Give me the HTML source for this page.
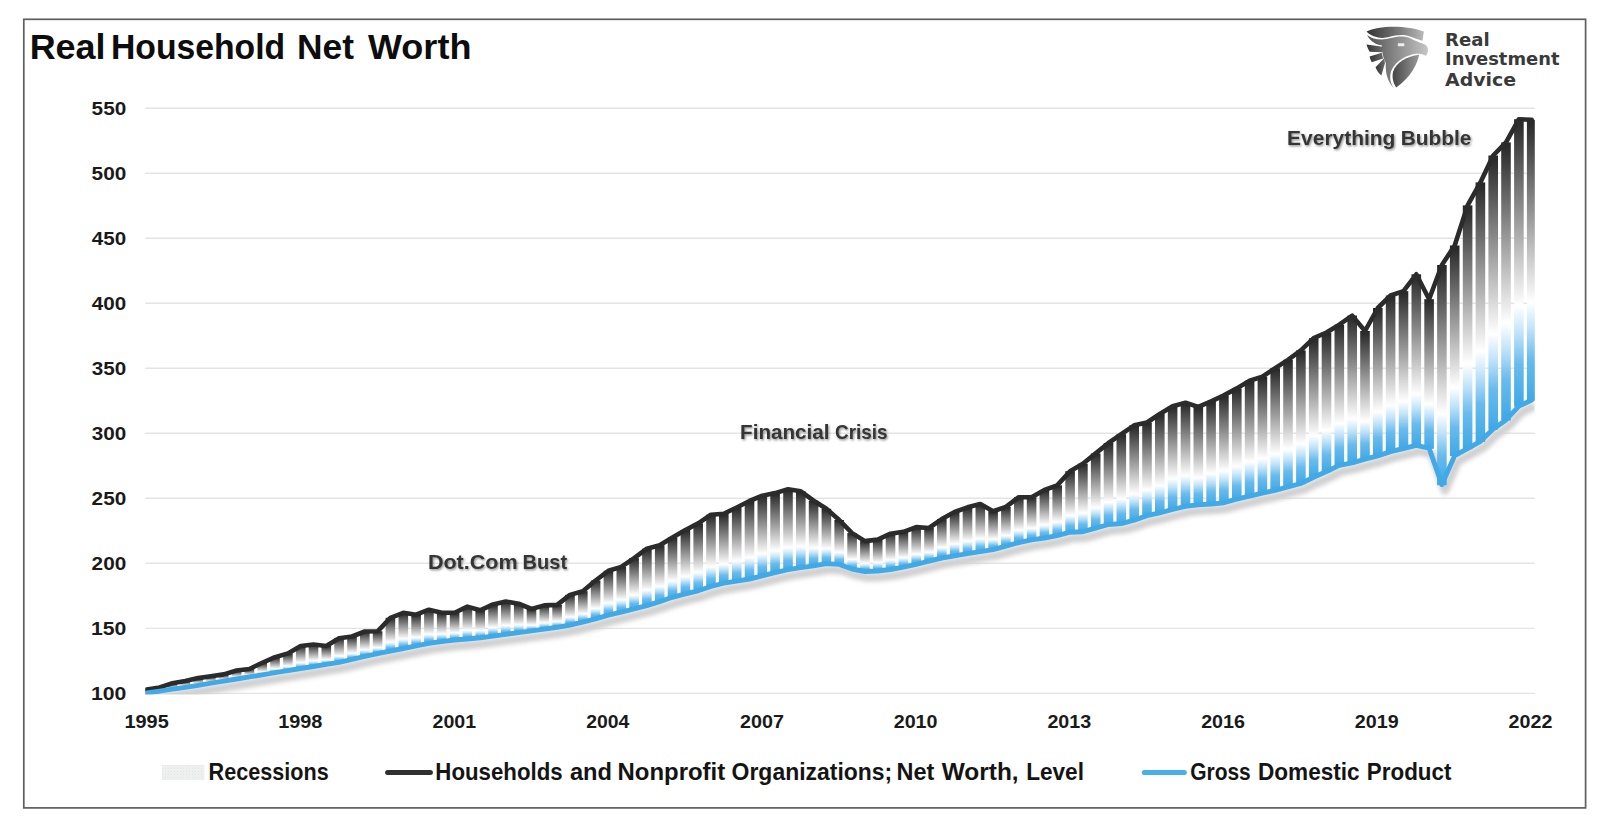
<!DOCTYPE html>
<html lang="en"><head><meta charset="utf-8"><title>Real Household Net Worth</title>
<style>html,body{margin:0;padding:0;background:#fff}svg{display:block}text{font-family:"Liberation Sans",Arial,sans-serif;font-weight:bold}</style></head>
<body>
<svg width="1606" height="828" viewBox="0 0 1606 828">
<defs>
<linearGradient id="bar0" x1="0" y1="0" x2="0" y2="1"><stop offset="0" stop-color="#262626"/><stop offset="0.720" stop-color="#ffffff"/><stop offset="0.796" stop-color="#bfe3f9"/><stop offset="0.882" stop-color="#68bbed"/><stop offset="1" stop-color="#3fa8e6"/></linearGradient>
<linearGradient id="bar1" x1="0" y1="0" x2="0" y2="1"><stop offset="0" stop-color="#262626"/><stop offset="0.700" stop-color="#ffffff"/><stop offset="0.781" stop-color="#bfe3f9"/><stop offset="0.874" stop-color="#68bbed"/><stop offset="1" stop-color="#3fa8e6"/></linearGradient>
<linearGradient id="bar2" x1="0" y1="0" x2="0" y2="1"><stop offset="0" stop-color="#262626"/><stop offset="0.675" stop-color="#ffffff"/><stop offset="0.763" stop-color="#bfe3f9"/><stop offset="0.864" stop-color="#68bbed"/><stop offset="1" stop-color="#3fa8e6"/></linearGradient>
<linearGradient id="bar3" x1="0" y1="0" x2="0" y2="1"><stop offset="0" stop-color="#262626"/><stop offset="0.650" stop-color="#ffffff"/><stop offset="0.745" stop-color="#bfe3f9"/><stop offset="0.853" stop-color="#68bbed"/><stop offset="1" stop-color="#3fa8e6"/></linearGradient>
<linearGradient id="lg1" x1="0" y1="0" x2="1" y2="0"><stop offset="0" stop-color="#333"/><stop offset="0.5" stop-color="#707070"/><stop offset="1" stop-color="#b8b8b8"/></linearGradient>
<linearGradient id="lg2" x1="0" y1="0" x2="1" y2="0"><stop offset="0" stop-color="#505050"/><stop offset="0.4" stop-color="#808080"/><stop offset="1" stop-color="#c6c6c6"/></linearGradient>
<linearGradient id="lg3" x1="0" y1="0" x2="1" y2="0"><stop offset="0" stop-color="#454545"/><stop offset="1" stop-color="#9a9a9a"/></linearGradient>
<linearGradient id="lg4" x1="0" y1="0" x2="1" y2="0"><stop offset="0" stop-color="#333"/><stop offset="1" stop-color="#6c6c6c"/></linearGradient>
<filter id="sh" x="-5%" y="-20%" width="110%" height="150%"><feGaussianBlur stdDeviation="1.9"/></filter>
<filter id="ts" x="-10%" y="-30%" width="120%" height="170%"><feDropShadow dx="1.1" dy="1.3" stdDeviation="1.0" flood-color="#000" flood-opacity="0.45"/></filter>
<clipPath id="plot"><rect x="145.3" y="100" width="1389.5" height="594.6"/></clipPath>
<pattern id="rec" width="3" height="3" patternUnits="userSpaceOnUse"><rect width="3" height="3" fill="#eef0f0"/><rect width="1" height="1" fill="#e2e5e5"/></pattern>
</defs>
<rect x="0" y="0" width="1606" height="828" fill="#fff"/>
<rect x="23.8" y="19.3" width="1561.8" height="788.6" fill="#fff" stroke="#5e5e5e" stroke-width="1.7"/>
<g stroke="#e4e4e4" stroke-width="1.4">
<line x1="145.3" y1="108.2" x2="1534.8" y2="108.2"/>
<line x1="145.3" y1="173.2" x2="1534.8" y2="173.2"/>
<line x1="145.3" y1="238.2" x2="1534.8" y2="238.2"/>
<line x1="145.3" y1="303.3" x2="1534.8" y2="303.3"/>
<line x1="145.3" y1="368.3" x2="1534.8" y2="368.3"/>
<line x1="145.3" y1="433.3" x2="1534.8" y2="433.3"/>
<line x1="145.3" y1="498.3" x2="1534.8" y2="498.3"/>
<line x1="145.3" y1="563.3" x2="1534.8" y2="563.3"/>
<line x1="145.3" y1="628.4" x2="1534.8" y2="628.4"/>
<line x1="145.3" y1="693.4" x2="1534.8" y2="693.4"/>
</g>
<g fill="#1a1a1a">
<text y="114.6" font-size="17.8" ><tspan x="91.58" textLength="34.67" lengthAdjust="spacingAndGlyphs">550</tspan></text>
<text y="179.6" font-size="17.8" ><tspan x="91.58" textLength="34.67" lengthAdjust="spacingAndGlyphs">500</tspan></text>
<text y="244.6" font-size="17.8" ><tspan x="91.89" textLength="34.35" lengthAdjust="spacingAndGlyphs">450</tspan></text>
<text y="309.7" font-size="17.8" ><tspan x="91.89" textLength="34.35" lengthAdjust="spacingAndGlyphs">400</tspan></text>
<text y="374.7" font-size="17.8" ><tspan x="91.79" textLength="34.46" lengthAdjust="spacingAndGlyphs">350</tspan></text>
<text y="439.7" font-size="17.8" ><tspan x="91.79" textLength="34.46" lengthAdjust="spacingAndGlyphs">300</tspan></text>
<text y="504.7" font-size="17.8" ><tspan x="91.58" textLength="34.67" lengthAdjust="spacingAndGlyphs">250</tspan></text>
<text y="569.7" font-size="17.8" ><tspan x="91.58" textLength="34.67" lengthAdjust="spacingAndGlyphs">200</tspan></text>
<text y="634.8" font-size="17.8" ><tspan x="90.93" textLength="35.34" lengthAdjust="spacingAndGlyphs">150</tspan></text>
<text y="699.8" font-size="17.8" ><tspan x="90.93" textLength="35.34" lengthAdjust="spacingAndGlyphs">100</tspan></text>
</g>
<g fill="#1a1a1a">
<text y="728.3" font-size="17.6" ><tspan x="124.51" textLength="44.21" lengthAdjust="spacingAndGlyphs">1995</tspan></text>
<text y="728.3" font-size="17.6" ><tspan x="278.23" textLength="44.21" lengthAdjust="spacingAndGlyphs">1998</tspan></text>
<text y="728.3" font-size="17.6" ><tspan x="432.55" textLength="43.60" lengthAdjust="spacingAndGlyphs">2001</tspan></text>
<text y="728.3" font-size="17.6" ><tspan x="586.28" textLength="43.10" lengthAdjust="spacingAndGlyphs">2004</tspan></text>
<text y="728.3" font-size="17.6" ><tspan x="739.99" textLength="43.90" lengthAdjust="spacingAndGlyphs">2007</tspan></text>
<text y="728.3" font-size="17.6" ><tspan x="893.71" textLength="43.80" lengthAdjust="spacingAndGlyphs">2010</tspan></text>
<text y="728.3" font-size="17.6" ><tspan x="1047.43" textLength="43.80" lengthAdjust="spacingAndGlyphs">2013</tspan></text>
<text y="728.3" font-size="17.6" ><tspan x="1201.15" textLength="43.80" lengthAdjust="spacingAndGlyphs">2016</tspan></text>
<text y="728.3" font-size="17.6" ><tspan x="1354.87" textLength="43.80" lengthAdjust="spacingAndGlyphs">2019</tspan></text>
<text y="728.3" font-size="17.6" ><tspan x="1508.59" textLength="43.80" lengthAdjust="spacingAndGlyphs">2022</tspan></text>
</g>
<g clip-path="url(#plot)">
<polyline points="149.8,699.0 162.6,697.1 175.4,695.2 188.3,693.3 201.1,691.3 213.9,689.2 226.7,687.1 239.6,685.0 252.4,682.9 265.2,680.8 278.0,678.7 290.9,676.6 303.7,674.5 316.5,672.5 329.3,670.4 342.1,668.3 355.0,665.3 367.8,662.4 380.6,659.6 393.4,657.0 406.3,654.5 419.1,651.9 431.9,649.3 444.7,647.6 457.6,646.0 470.4,645.0 483.2,643.8 496.0,642.1 508.8,640.4 521.7,638.6 534.5,636.9 547.3,635.1 560.1,633.3 573.0,631.0 585.8,628.1 598.6,624.8 611.4,621.2 624.3,618.1 637.1,614.8 649.9,611.6 662.7,607.6 675.5,603.3 688.4,599.9 701.2,596.8 714.0,592.5 726.8,589.2 739.7,587.1 752.5,585.0 765.3,581.8 778.1,578.7 791.0,575.6 803.8,573.7 816.6,571.8 829.4,569.6 842.2,570.4 855.1,575.0 867.9,577.5 880.7,577.0 893.5,575.5 906.4,573.2 919.2,570.3 932.0,567.2 944.8,564.0 957.6,561.9 970.5,559.7 983.3,557.6 996.1,555.6 1008.9,552.1 1021.8,548.6 1034.6,545.9 1047.4,544.0 1060.2,541.6 1073.1,538.2 1085.9,537.7 1098.7,534.2 1111.5,530.5 1124.3,529.6 1137.2,526.2 1150.0,521.6 1162.8,518.8 1175.6,515.5 1188.5,512.4 1201.3,510.8 1214.1,510.1 1226.9,508.7 1239.8,505.2 1252.6,502.1 1265.4,499.2 1278.2,496.4 1291.0,492.9 1303.9,489.5 1316.7,483.3 1329.5,477.6 1342.3,471.3 1355.2,468.8 1368.0,465.2 1380.8,461.8 1393.6,457.6 1406.5,454.5 1419.3,451.4 1432.1,454.2 1444.9,490.6 1457.7,461.5 1470.6,454.6 1483.4,447.3 1496.2,435.1 1509.0,425.9 1521.9,412.1 1534.7,406.0" fill="none" stroke="#d0d0d0" stroke-width="8.5" stroke-linejoin="round" filter="url(#sh)"/>
<g>
<rect x="142.0" y="689.5" width="9.6" height="4.1" fill="url(#bar0)"/>
<rect x="154.8" y="687.4" width="9.6" height="4.3" fill="url(#bar0)"/>
<rect x="167.6" y="683.3" width="9.6" height="6.5" fill="url(#bar0)"/>
<rect x="180.5" y="680.9" width="9.6" height="7.0" fill="url(#bar0)"/>
<rect x="193.3" y="678.1" width="9.6" height="7.8" fill="url(#bar0)"/>
<rect x="206.1" y="676.3" width="9.6" height="7.5" fill="url(#bar0)"/>
<rect x="218.9" y="674.4" width="9.6" height="7.3" fill="url(#bar0)"/>
<rect x="231.8" y="670.5" width="9.6" height="9.1" fill="url(#bar0)"/>
<rect x="244.6" y="669.0" width="9.6" height="8.5" fill="url(#bar0)"/>
<rect x="257.4" y="662.8" width="9.6" height="12.6" fill="url(#bar0)"/>
<rect x="270.2" y="657.2" width="9.6" height="16.1" fill="url(#bar0)"/>
<rect x="283.1" y="653.4" width="9.6" height="17.8" fill="url(#bar0)"/>
<rect x="295.9" y="646.0" width="9.6" height="23.1" fill="url(#bar0)"/>
<rect x="308.7" y="644.5" width="9.6" height="22.6" fill="url(#bar0)"/>
<rect x="321.5" y="646.0" width="9.6" height="19.0" fill="url(#bar0)"/>
<rect x="334.3" y="638.2" width="9.6" height="24.7" fill="url(#bar0)"/>
<rect x="347.2" y="636.5" width="9.6" height="23.4" fill="url(#bar0)"/>
<rect x="360.0" y="631.5" width="9.6" height="25.5" fill="url(#bar0)"/>
<rect x="372.8" y="631.3" width="9.6" height="22.9" fill="url(#bar0)"/>
<rect x="385.6" y="617.8" width="9.6" height="33.8" fill="url(#bar0)"/>
<rect x="398.5" y="612.8" width="9.6" height="36.3" fill="url(#bar0)"/>
<rect x="411.3" y="614.7" width="9.6" height="31.8" fill="url(#bar0)"/>
<rect x="424.1" y="609.7" width="9.6" height="34.2" fill="url(#bar0)"/>
<rect x="436.9" y="612.8" width="9.6" height="29.4" fill="url(#bar0)"/>
<rect x="449.8" y="612.8" width="9.6" height="27.8" fill="url(#bar0)"/>
<rect x="462.6" y="606.6" width="9.6" height="33.0" fill="url(#bar0)"/>
<rect x="475.4" y="610.3" width="9.6" height="28.1" fill="url(#bar0)"/>
<rect x="488.2" y="604.4" width="9.6" height="32.3" fill="url(#bar0)"/>
<rect x="501.0" y="601.5" width="9.6" height="33.5" fill="url(#bar0)"/>
<rect x="513.9" y="603.7" width="9.6" height="29.5" fill="url(#bar0)"/>
<rect x="526.7" y="609.0" width="9.6" height="22.5" fill="url(#bar0)"/>
<rect x="539.5" y="605.4" width="9.6" height="24.3" fill="url(#bar0)"/>
<rect x="552.3" y="604.9" width="9.6" height="23.0" fill="url(#bar0)"/>
<rect x="565.2" y="594.9" width="9.6" height="30.7" fill="url(#bar0)"/>
<rect x="578.0" y="591.2" width="9.6" height="31.5" fill="url(#bar0)"/>
<rect x="590.8" y="580.5" width="9.6" height="38.9" fill="url(#bar0)"/>
<rect x="603.6" y="570.8" width="9.6" height="45.0" fill="url(#bar0)"/>
<rect x="616.5" y="566.9" width="9.6" height="45.8" fill="url(#bar0)"/>
<rect x="629.3" y="558.1" width="9.6" height="51.3" fill="url(#bar0)"/>
<rect x="642.1" y="548.7" width="9.6" height="57.5" fill="url(#bar0)"/>
<rect x="654.9" y="545.3" width="9.6" height="56.9" fill="url(#bar0)"/>
<rect x="667.7" y="537.5" width="9.6" height="60.4" fill="url(#bar0)"/>
<rect x="680.6" y="530.0" width="9.6" height="64.5" fill="url(#bar0)"/>
<rect x="693.4" y="523.4" width="9.6" height="68.0" fill="url(#bar0)"/>
<rect x="706.2" y="514.7" width="9.6" height="72.4" fill="url(#bar0)"/>
<rect x="719.0" y="513.7" width="9.6" height="70.1" fill="url(#bar0)"/>
<rect x="731.9" y="507.5" width="9.6" height="74.2" fill="url(#bar0)"/>
<rect x="744.7" y="501.0" width="9.6" height="78.6" fill="url(#bar0)"/>
<rect x="757.5" y="495.7" width="9.6" height="80.7" fill="url(#bar0)"/>
<rect x="770.3" y="493.1" width="9.6" height="80.2" fill="url(#bar0)"/>
<rect x="783.2" y="489.3" width="9.6" height="80.9" fill="url(#bar0)"/>
<rect x="796.0" y="491.3" width="9.6" height="77.0" fill="url(#bar0)"/>
<rect x="808.8" y="500.7" width="9.6" height="65.7" fill="url(#bar0)"/>
<rect x="821.6" y="508.8" width="9.6" height="55.4" fill="url(#bar0)"/>
<rect x="834.4" y="520.0" width="9.6" height="45.0" fill="url(#bar0)"/>
<rect x="847.3" y="533.1" width="9.6" height="36.5" fill="url(#bar0)"/>
<rect x="860.1" y="541.1" width="9.6" height="31.0" fill="url(#bar0)"/>
<rect x="872.9" y="539.6" width="9.6" height="32.0" fill="url(#bar0)"/>
<rect x="885.7" y="533.7" width="9.6" height="36.4" fill="url(#bar0)"/>
<rect x="898.6" y="531.8" width="9.6" height="36.0" fill="url(#bar0)"/>
<rect x="911.4" y="527.1" width="9.6" height="37.8" fill="url(#bar0)"/>
<rect x="924.2" y="528.0" width="9.6" height="33.8" fill="url(#bar0)"/>
<rect x="937.0" y="519.1" width="9.6" height="39.5" fill="url(#bar0)"/>
<rect x="949.8" y="512.0" width="9.6" height="44.5" fill="url(#bar0)"/>
<rect x="962.7" y="507.3" width="9.6" height="47.0" fill="url(#bar0)"/>
<rect x="975.5" y="504.1" width="9.6" height="48.1" fill="url(#bar0)"/>
<rect x="988.3" y="511.2" width="9.6" height="39.0" fill="url(#bar0)"/>
<rect x="1001.1" y="506.9" width="9.6" height="39.8" fill="url(#bar0)"/>
<rect x="1014.0" y="497.2" width="9.6" height="46.0" fill="url(#bar0)"/>
<rect x="1026.8" y="497.2" width="9.6" height="43.3" fill="url(#bar0)"/>
<rect x="1039.6" y="490.0" width="9.6" height="48.6" fill="url(#bar0)"/>
<rect x="1052.4" y="485.4" width="9.6" height="50.8" fill="url(#bar0)"/>
<rect x="1065.3" y="471.2" width="9.6" height="61.6" fill="url(#bar0)"/>
<rect x="1078.1" y="463.7" width="9.6" height="68.6" fill="url(#bar0)"/>
<rect x="1090.9" y="453.4" width="9.6" height="75.4" fill="url(#bar0)"/>
<rect x="1103.7" y="443.0" width="9.6" height="82.1" fill="url(#bar0)"/>
<rect x="1116.5" y="434.2" width="9.6" height="90.0" fill="url(#bar0)"/>
<rect x="1129.4" y="425.3" width="9.6" height="95.5" fill="url(#bar0)"/>
<rect x="1142.2" y="422.5" width="9.6" height="93.7" fill="url(#bar0)"/>
<rect x="1155.0" y="414.0" width="9.6" height="99.4" fill="url(#bar0)"/>
<rect x="1167.8" y="406.2" width="9.6" height="103.9" fill="url(#bar1)"/>
<rect x="1180.7" y="402.8" width="9.6" height="104.2" fill="url(#bar1)"/>
<rect x="1193.5" y="406.9" width="9.6" height="98.5" fill="url(#bar0)"/>
<rect x="1206.3" y="401.3" width="9.6" height="103.4" fill="url(#bar1)"/>
<rect x="1219.1" y="395.3" width="9.6" height="108.0" fill="url(#bar1)"/>
<rect x="1232.0" y="388.4" width="9.6" height="111.4" fill="url(#bar1)"/>
<rect x="1244.8" y="380.7" width="9.6" height="116.0" fill="url(#bar1)"/>
<rect x="1257.6" y="376.6" width="9.6" height="117.2" fill="url(#bar1)"/>
<rect x="1270.4" y="368.2" width="9.6" height="122.8" fill="url(#bar1)"/>
<rect x="1283.2" y="359.8" width="9.6" height="127.7" fill="url(#bar1)"/>
<rect x="1296.1" y="350.4" width="9.6" height="133.7" fill="url(#bar1)"/>
<rect x="1308.9" y="338.2" width="9.6" height="139.7" fill="url(#bar1)"/>
<rect x="1321.7" y="332.5" width="9.6" height="139.7" fill="url(#bar1)"/>
<rect x="1334.5" y="324.7" width="9.6" height="141.2" fill="url(#bar1)"/>
<rect x="1347.4" y="315.6" width="9.6" height="147.8" fill="url(#bar1)"/>
<rect x="1360.2" y="331.0" width="9.6" height="128.8" fill="url(#bar1)"/>
<rect x="1373.0" y="308.0" width="9.6" height="148.4" fill="url(#bar1)"/>
<rect x="1385.8" y="295.5" width="9.6" height="156.7" fill="url(#bar1)"/>
<rect x="1398.7" y="291.1" width="9.6" height="158.0" fill="url(#bar1)"/>
<rect x="1411.5" y="274.3" width="9.6" height="171.7" fill="url(#bar1)"/>
<rect x="1424.3" y="299.2" width="9.6" height="149.6" fill="url(#bar1)"/>
<rect x="1437.1" y="265.0" width="9.6" height="220.2" fill="url(#bar2)"/>
<rect x="1449.9" y="245.5" width="9.6" height="210.6" fill="url(#bar2)"/>
<rect x="1462.8" y="205.4" width="9.6" height="243.8" fill="url(#bar3)"/>
<rect x="1475.6" y="182.4" width="9.6" height="259.5" fill="url(#bar3)"/>
<rect x="1488.4" y="155.5" width="9.6" height="274.2" fill="url(#bar3)"/>
<rect x="1501.2" y="142.4" width="9.6" height="278.1" fill="url(#bar3)"/>
<rect x="1514.1" y="119.2" width="9.6" height="287.5" fill="url(#bar3)"/>
<rect x="1526.9" y="119.8" width="9.6" height="280.8" fill="url(#bar3)"/>
</g>
<polyline points="146.8,689.5 159.6,687.4 172.4,683.3 185.3,680.9 198.1,678.1 210.9,676.3 223.7,674.4 236.6,670.5 249.4,669.0 262.2,662.8 275.0,657.2 287.9,653.4 300.7,646.0 313.5,644.5 326.3,646.0 339.1,638.2 352.0,636.5 364.8,631.5 377.6,631.3 390.4,617.8 403.3,612.8 416.1,614.7 428.9,609.7 441.7,612.8 454.6,612.8 467.4,606.6 480.2,610.3 493.0,604.4 505.8,601.5 518.7,603.7 531.5,609.0 544.3,605.4 557.1,604.9 570.0,594.9 582.8,591.2 595.6,580.5 608.4,570.8 621.3,566.9 634.1,558.1 646.9,548.7 659.7,545.3 672.5,537.5 685.4,530.0 698.2,523.4 711.0,514.7 723.8,513.7 736.7,507.5 749.5,501.0 762.3,495.7 775.1,493.1 788.0,489.3 800.8,491.3 813.6,500.7 826.4,508.8 839.2,520.0 852.1,533.1 864.9,541.1 877.7,539.6 890.5,533.7 903.4,531.8 916.2,527.1 929.0,528.0 941.8,519.1 954.6,512.0 967.5,507.3 980.3,504.1 993.1,511.2 1005.9,506.9 1018.8,497.2 1031.6,497.2 1044.4,490.0 1057.2,485.4 1070.1,471.2 1082.9,463.7 1095.7,453.4 1108.5,443.0 1121.3,434.2 1134.2,425.3 1147.0,422.5 1159.8,414.0 1172.6,406.2 1185.5,402.8 1198.3,406.9 1211.1,401.3 1223.9,395.3 1236.8,388.4 1249.6,380.7 1262.4,376.6 1275.2,368.2 1288.0,359.8 1300.9,350.4 1313.7,338.2 1326.5,332.5 1339.3,324.7 1352.2,315.6 1365.0,331.0 1377.8,308.0 1390.6,295.5 1403.5,291.1 1416.3,274.3 1429.1,299.2 1441.9,265.0 1454.7,245.5 1467.6,205.4 1480.4,182.4 1493.2,155.5 1506.0,142.4 1518.9,119.2 1531.7,119.8" fill="none" stroke="#2b2b2b" stroke-width="4.6" stroke-linejoin="round" stroke-linecap="round"/>
<polyline points="146.8,693.0 159.6,691.1 172.4,689.2 185.3,687.3 198.1,685.3 210.9,683.2 223.7,681.1 236.6,679.0 249.4,676.9 262.2,674.8 275.0,672.7 287.9,670.6 300.7,668.5 313.5,666.5 326.3,664.4 339.1,662.3 352.0,659.3 364.8,656.4 377.6,653.6 390.4,651.0 403.3,648.5 416.1,645.9 428.9,643.3 441.7,641.6 454.6,640.0 467.4,639.0 480.2,637.8 493.0,636.1 505.8,634.4 518.7,632.6 531.5,630.9 544.3,629.1 557.1,627.3 570.0,625.0 582.8,622.1 595.6,618.8 608.4,615.2 621.3,612.1 634.1,608.8 646.9,605.6 659.7,601.6 672.5,597.3 685.4,593.9 698.2,590.8 711.0,586.5 723.8,583.2 736.7,581.1 749.5,579.0 762.3,575.8 775.1,572.7 788.0,569.6 800.8,567.7 813.6,565.8 826.4,563.6 839.2,564.4 852.1,569.0 864.9,571.5 877.7,571.0 890.5,569.5 903.4,567.2 916.2,564.3 929.0,561.2 941.8,558.0 954.6,555.9 967.5,553.7 980.3,551.6 993.1,549.6 1005.9,546.1 1018.8,542.6 1031.6,539.9 1044.4,538.0 1057.2,535.6 1070.1,532.2 1082.9,531.7 1095.7,528.2 1108.5,524.5 1121.3,523.6 1134.2,520.2 1147.0,515.6 1159.8,512.8 1172.6,509.5 1185.5,506.4 1198.3,504.8 1211.1,504.1 1223.9,502.7 1236.8,499.2 1249.6,496.1 1262.4,493.2 1275.2,490.4 1288.0,486.9 1300.9,483.5 1313.7,477.3 1326.5,471.6 1339.3,465.3 1352.2,462.8 1365.0,459.2 1377.8,455.8 1390.6,451.6 1403.5,448.5 1416.3,445.4 1429.1,448.2 1441.9,484.6 1454.7,455.5 1467.6,448.6 1480.4,441.3 1493.2,429.1 1506.0,419.9 1518.9,406.1 1531.7,400.0" fill="none" stroke="#41a9e6" stroke-width="4.9" stroke-linejoin="round" stroke-linecap="round"/>
</g>
<text y="58.9" font-size="34.6" fill="#0d0d0d"><tspan x="29.67" textLength="75.87" lengthAdjust="spacingAndGlyphs">Real</tspan> <tspan x="110.91" textLength="174.31" lengthAdjust="spacingAndGlyphs">Household</tspan> <tspan x="297.00" textLength="56.98" lengthAdjust="spacingAndGlyphs">Net</tspan> <tspan x="368.00" textLength="103.39" lengthAdjust="spacingAndGlyphs">Worth</tspan></text>
<g fill="#363636" filter="url(#ts)">
<text y="568.9" font-size="19.9" ><tspan x="427.90" textLength="89.78" lengthAdjust="spacingAndGlyphs">Dot.Com</tspan> <tspan x="522.60" textLength="44.46" lengthAdjust="spacingAndGlyphs">Bust</tspan></text>
<text y="439.3" font-size="19.9" ><tspan x="740.06" textLength="89.44" lengthAdjust="spacingAndGlyphs">Financial</tspan> <tspan x="835.04" textLength="52.54" lengthAdjust="spacingAndGlyphs">Crisis</tspan></text>
<text y="144.9" font-size="19.9" ><tspan x="1287.14" textLength="108.24" lengthAdjust="spacingAndGlyphs">Everything</tspan> <tspan x="1400.85" textLength="70.50" lengthAdjust="spacingAndGlyphs">Bubble</tspan></text>
</g>
<rect x="162" y="765" width="42.3" height="15" fill="url(#rec)"/>
<line x1="387.6" y1="772.4" x2="430.4" y2="772.4" stroke="#303030" stroke-width="5" stroke-linecap="round"/>
<line x1="1144.3" y1="772.4" x2="1184.3" y2="772.4" stroke="#4aaee8" stroke-width="5" stroke-linecap="round"/>
<g fill="#141414">
<text y="779.7" font-size="23.2" ><tspan x="208.60" textLength="120.09" lengthAdjust="spacingAndGlyphs">Recessions</tspan></text>
<text y="779.7" font-size="23.2" ><tspan x="435.35" textLength="127.25" lengthAdjust="spacingAndGlyphs">Households</tspan> <tspan x="569.91" textLength="42.05" lengthAdjust="spacingAndGlyphs">and</tspan> <tspan x="617.54" textLength="107.65" lengthAdjust="spacingAndGlyphs">Nonprofit</tspan> <tspan x="731.58" textLength="160.65" lengthAdjust="spacingAndGlyphs">Organizations;</tspan> <tspan x="896.57" textLength="37.81" lengthAdjust="spacingAndGlyphs">Net</tspan> <tspan x="941.70" textLength="76.94" lengthAdjust="spacingAndGlyphs">Worth,</tspan> <tspan x="1026.13" textLength="57.80" lengthAdjust="spacingAndGlyphs">Level</tspan></text>
<text y="779.7" font-size="23.2" ><tspan x="1190.16" textLength="60.60" lengthAdjust="spacingAndGlyphs">Gross</tspan> <tspan x="1258.03" textLength="101.66" lengthAdjust="spacingAndGlyphs">Domestic</tspan> <tspan x="1366.84" textLength="84.64" lengthAdjust="spacingAndGlyphs">Product</tspan></text>
</g>
<g font-family="'DejaVu Sans','Liberation Sans',sans-serif" font-size="18.3" fill="#3a3a3a">
<text x="1445" y="45.6" textLength="44.6" lengthAdjust="spacingAndGlyphs" style="font-family:'DejaVu Sans','Liberation Sans',sans-serif">Real</text>
<text x="1445" y="65.3" textLength="114.5" lengthAdjust="spacingAndGlyphs" style="font-family:'DejaVu Sans','Liberation Sans',sans-serif">Investment</text>
<text x="1445" y="85.5" textLength="71" lengthAdjust="spacingAndGlyphs" style="font-family:'DejaVu Sans','Liberation Sans',sans-serif">Advice</text>
</g>
<g transform="translate(1360,20) scale(0.09058)">
<path fill="url(#lg1)" d="M72,128 C200,60 520,55 705,128 C700,160 695,200 690,228 C640,215 600,200 560,185 C500,155 400,160 330,185 C240,215 130,190 72,128 Z"/>
<path fill="url(#lg2)" d="M78,165 C140,215 240,230 340,200 C420,178 500,175 560,205 C600,225 650,250 700,262 C735,275 755,305 750,335 C748,360 740,385 728,395 C700,375 660,370 620,372 C520,385 400,440 345,560 C320,640 340,700 372,752 C320,700 275,600 285,475 C265,440 248,380 244,330 C242,310 241,295 240,280 C180,275 120,240 78,165 Z"/>
<path fill="url(#lg4)" d="M72,270 L250,296 L250,356 L108,350 C94,330 80,300 72,270 Z"/>
<path fill="url(#lg4)" d="M106,404 L240,362 L256,424 L130,466 C118,446 110,424 106,404 Z"/>
<path fill="url(#lg4)" d="M172,522 L264,424 L276,474 L236,614 C206,588 184,556 172,522 Z"/>
<path fill="url(#lg3)" d="M365,570 C400,470 520,400 652,385 C640,470 560,640 400,745 C370,700 350,640 365,570 Z"/>
<rect x="418" y="258" width="72" height="32" rx="6" fill="#ececec"/>
</g>
</svg>
</body></html>
